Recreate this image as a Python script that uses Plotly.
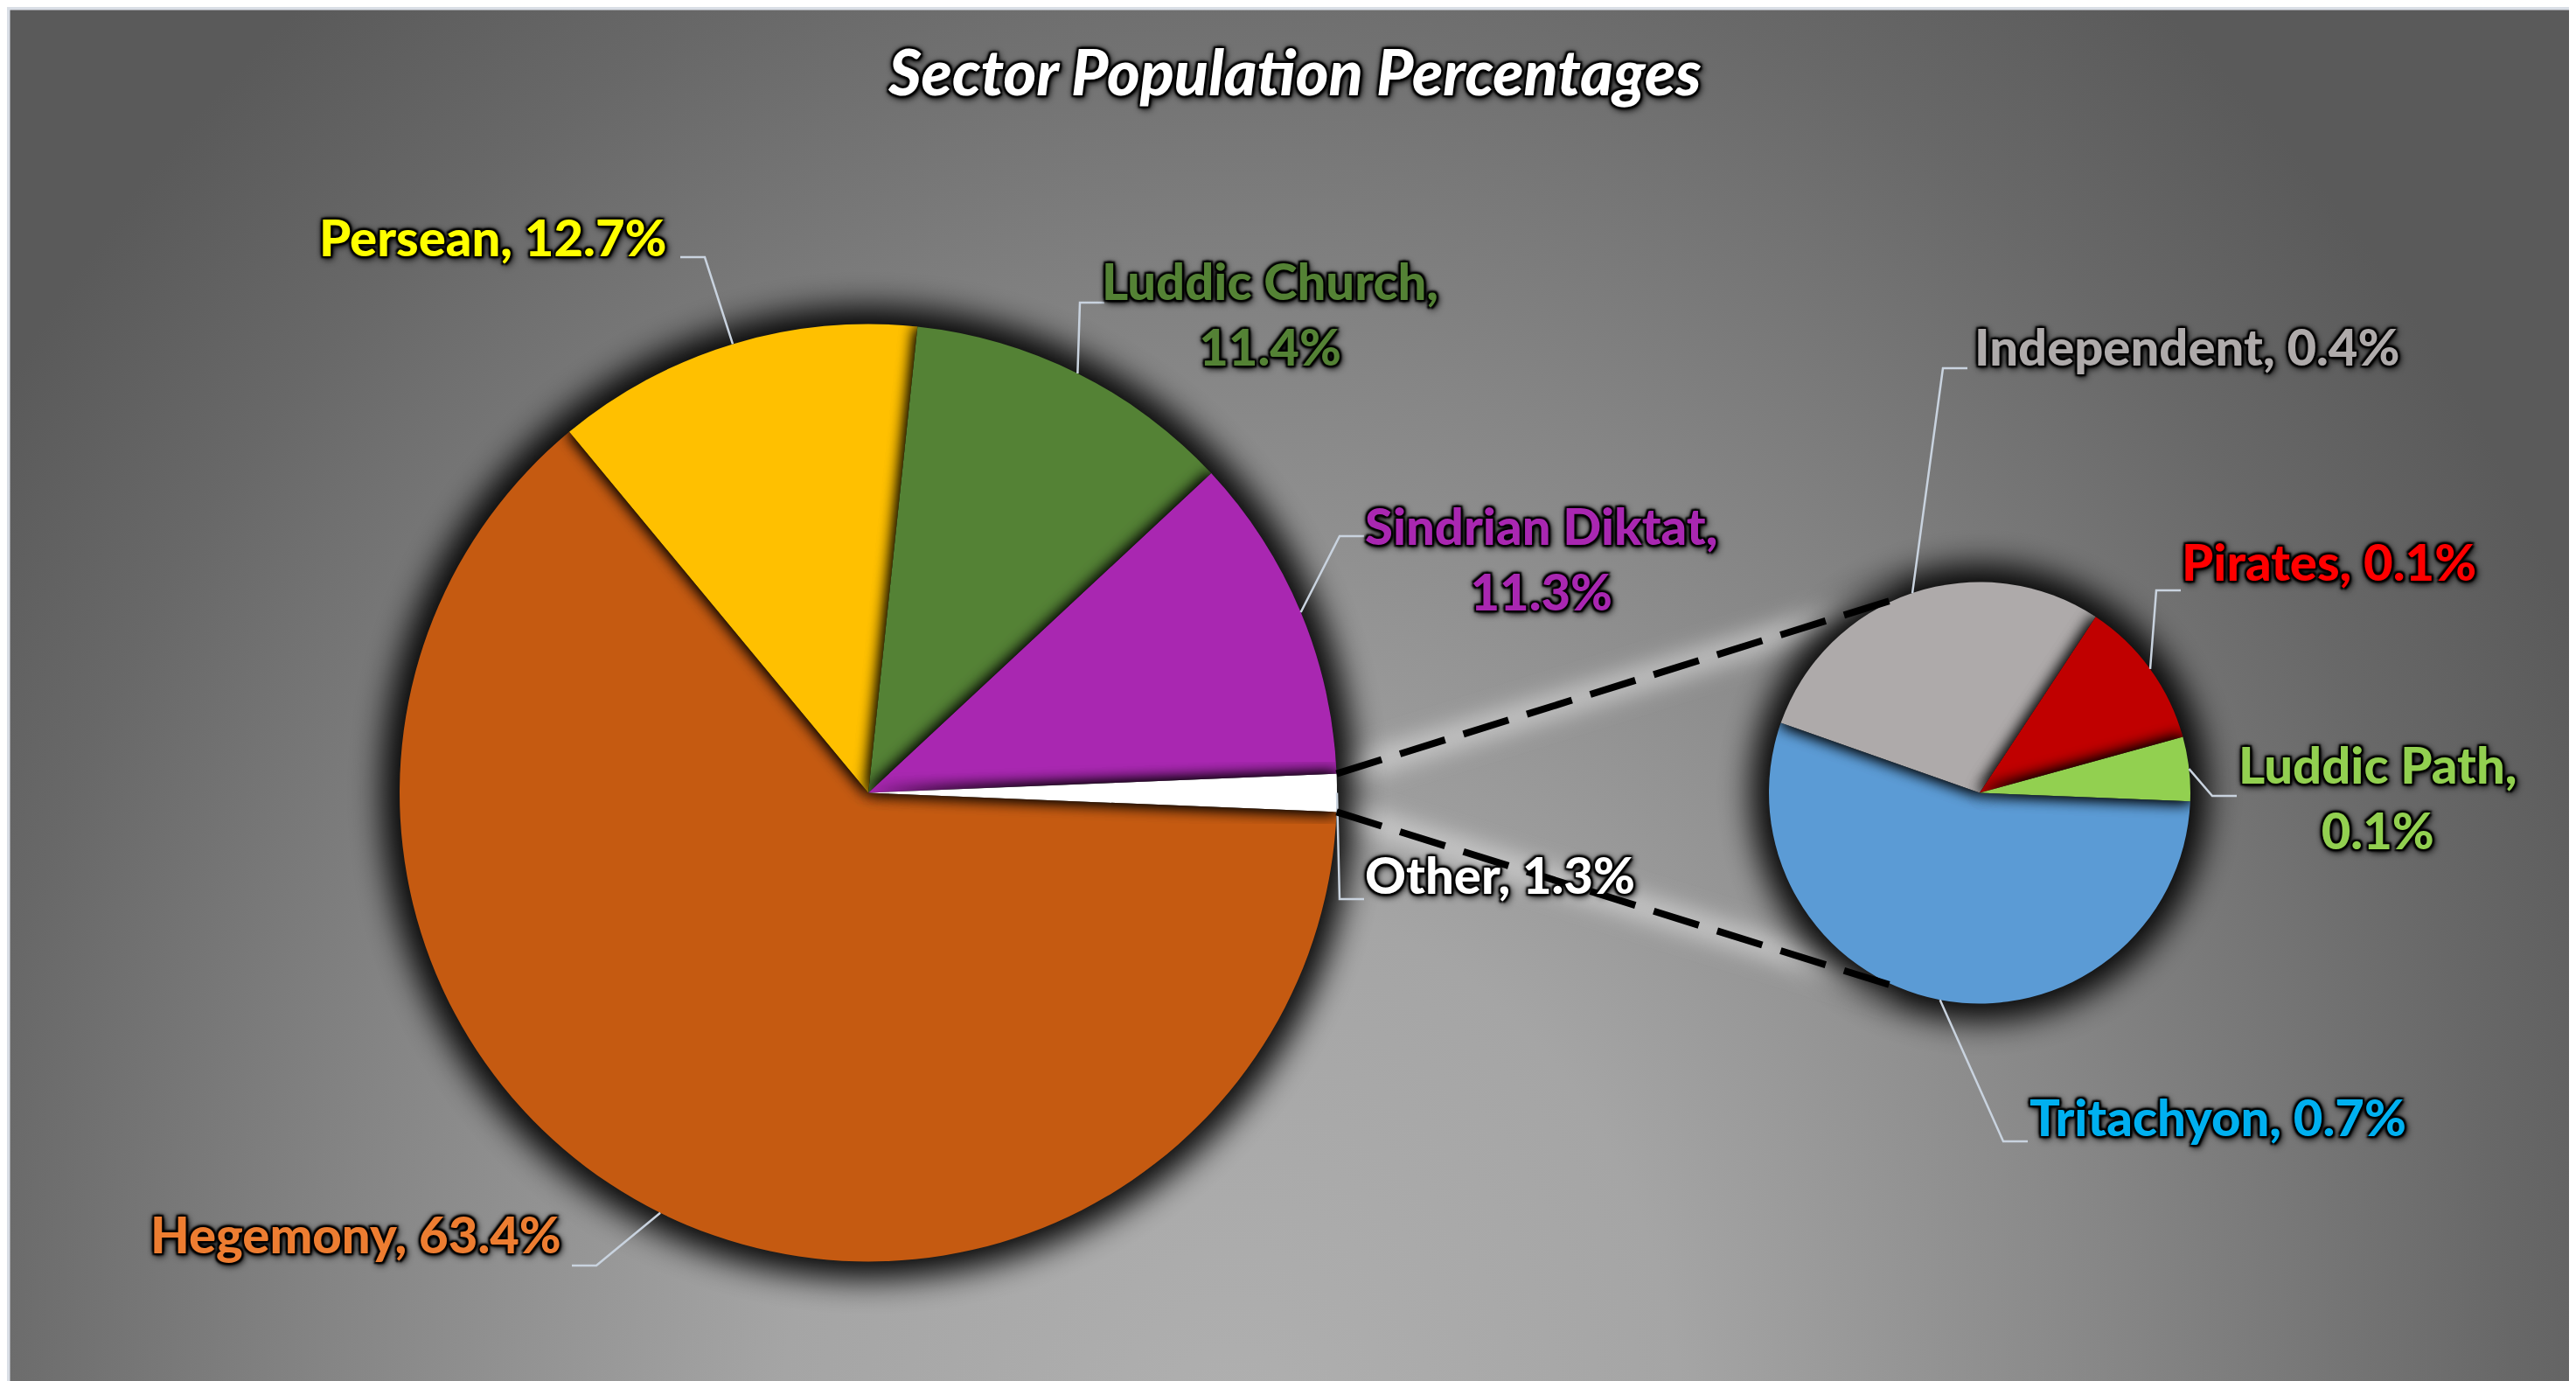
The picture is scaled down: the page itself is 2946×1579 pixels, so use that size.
import base64
import math
import plotly.graph_objects as go

W, H = 2946, 1579

# main pie
main_labels = ["Hegemony", "Persean", "Luddic Church", "Sindrian Diktat", "Other"]
main_values = [63.4, 12.7, 11.4, 11.3, 1.3]
main_colors = ["#C55A11", "#FFC000", "#548235", "#A927B1", "#FFFFFF"]
main_text_colors = ["#ED7D31", "#FFFF00", "#548235", "#A927B1", "#FFFFFF"]

# breakdown of "Other" (second pie), sizes
sub_labels = ["Tritachyon", "Independent", "Pirates", "Luddic Path"]
sub_values = [0.712, 0.376, 0.149, 0.064]
sub_colors = ["#5B9BD5", "#AEAAAA", "#C00000", "#92D050"]
sub_text_colors = ["#00B0F0", "#AEAAAA", "#FF0000", "#92D050"]

wrapped = {"Luddic Church", "Sindrian Diktat", "Luddic Path"}

# layout (pixels): pie centres / radii, label centres and where the leader meets the label
main_c, main_r = (985, 898.5), 536
sub_c, sub_r = (2256, 898.5), 241
start_deg = -2.34  # first slice starts just under 3 o'clock, clockwise

main_label_pos = [(399, 1402), (556, 262), (1444, 350), (1754, 630), (1707, 991)]
main_leader_pos = [(646, 1439), (770, 286), (1255, 338), (1552, 605), (1552, 1020)]
sub_label_pos = [(2528, 1268), (2493, 388), (2655, 633), (2711, 903)]
sub_leader_pos = [(2311, 1297), (2242, 413), (2486, 667), (2550, 902)]

FONT = "Lato"
SHADOW = ("-2px -2px 2px #000, 2px -2px 2px #000, -2px 2px 2px #000, 2px 2px 2px #000, "
          "0px 0px 4px #000, 0px 0px 7px #000, 2px 3px 9px #000")


def px(x, y):
    return x / W, 1 - y / H


def pt(c, r, ang):
    a = math.radians(ang)
    return c[0] + r * math.cos(a), c[1] - r * math.sin(a)


def slice_angles(values):
    total = sum(values)
    out = []
    a = start_deg
    for v in values:
        span = v / total * 360
        out.append((a, a - span))
        a -= span
    return out


def wedge(c, r, a0, a1):
    # clockwise wedge from a0 down to a1 (math degrees)
    x0, y0 = pt(c, r, a0)
    x1, y1 = pt(c, r, a1)
    large = 1 if (a0 - a1) > 180 else 0
    return (f"M{c[0]:.1f},{c[1]:.1f} L{x0:.1f},{y0:.1f} "
            f"A{r},{r} 0 {large} 1 {x1:.1f},{y1:.1f} Z")


def domain(c, r):
    return dict(x=[(c[0] - r) / W, (c[0] + r) / W],
                y=[1 - (c[1] + r) / H, 1 - (c[1] - r) / H])


main_ang = slice_angles(main_values)
sub_ang = slice_angles(sub_values)

# connector end points
other_a0, other_a1 = main_ang[-1]
con_top = (pt(main_c, main_r, other_a0), pt(sub_c, sub_r, 112))
con_bot = (pt(main_c, main_r, other_a1), pt(sub_c, sub_r, -112))

# background: gradient, glow round the connectors, shadow halo round the pies
gx, gy = 1400, 1650
bg_svg = f"""<svg xmlns='http://www.w3.org/2000/svg' width='{W}' height='{H}' viewBox='0 0 {W} {H}'>
<defs>
<radialGradient id='bg' gradientUnits='userSpaceOnUse' cx='{gx}' cy='{gy}' r='2100'
 gradientTransform='translate({gx},{gy}) scale(0.82,1) translate(-{gx},-{gy})'>
<stop offset='0' stop-color='#B0B0B0'/>
<stop offset='0.3' stop-color='#A5A5A5'/>
<stop offset='0.6' stop-color='#858585'/>
<stop offset='0.85' stop-color='#686868'/>
<stop offset='1' stop-color='#5A5A5A'/>
</radialGradient>
<filter id='halo' x='-30%' y='-30%' width='160%' height='160%'><feGaussianBlur stdDeviation='18'/></filter>
<filter id='glow' x='-30%' y='-30%' width='160%' height='160%'><feGaussianBlur stdDeviation='12'/></filter>
</defs>
<rect width='{W}' height='{H}' fill='url(#bg)'/>
"""
for (a, b) in (con_top, con_bot):
    bg_svg += (f"<line x1='{a[0]:.1f}' y1='{a[1]:.1f}' x2='{b[0]:.1f}' y2='{b[1]:.1f}' "
               f"stroke='#E6E6E6' stroke-width='30' opacity='0.55' filter='url(#glow)'/>\n")
for c, r in ((main_c, main_r), (sub_c, sub_r)):
    bg_svg += (f"<circle cx='{c[0]}' cy='{c[1]}' r='{r + 20}' fill='#000' opacity='0.95' "
               f"filter='url(#halo)'/>\n")
bg_svg += "</svg>"

# slice shadows: each slice throws a soft shadow onto the slices drawn before it
sh_svg = (f"<svg xmlns='http://www.w3.org/2000/svg' width='{W}' height='{H}' viewBox='0 0 {W} {H}'>"
          "<defs><filter id='sh' x='-30%' y='-30%' width='160%' height='160%'>"
          "<feGaussianBlur stdDeviation='9'/></filter>")
body = ""
for k, (c, r, angs) in enumerate(((main_c, main_r, main_ang), (sub_c, sub_r, sub_ang))):
    for i in range(1, len(angs)):
        cid = f"c{k}_{i}"
        sh_svg += f"<clipPath id='{cid}'><path d='{wedge(c, r, angs[0][0], angs[i][0])}'/></clipPath>"
        shade = (f"<path d='{wedge(c, r, angs[i][0], angs[i][1])}' "
                 f"fill='#000' filter='url(#sh)'/>")
        body += f"<g clip-path='url(#{cid})'>{shade}{shade}</g>"
sh_svg += "</defs>" + body + "</svg>"


def data_uri(svg):
    return "data:image/svg+xml;base64," + base64.b64encode(svg.encode()).decode()


fig = go.Figure()
fig.add_trace(go.Pie(
    labels=main_labels, values=main_values, sort=False, direction="clockwise",
    rotation=90 - start_deg, marker=dict(colors=main_colors, line=dict(width=0)),
    textinfo="none", showlegend=False, domain=domain(main_c, main_r),
))
fig.add_trace(go.Pie(
    labels=sub_labels, values=sub_values, sort=False, direction="clockwise",
    rotation=90 - start_deg, marker=dict(colors=sub_colors, line=dict(width=0)),
    textinfo="none", showlegend=False, domain=domain(sub_c, sub_r),
))

shapes = []
annotations = []


def add_labels(labels, values, angs, c, r, colors, label_pos, leader_pos):
    for name, v, (a0, a1), col, lp, ld in zip(labels, values, angs, colors, label_pos, leader_pos):
        sep = ",<br>" if name in wrapped else ", "
        x, y = px(*lp)
        annotations.append(dict(
            text=f"{name}{sep}{v:.1f}%", x=x, y=y, xref="paper", yref="paper",
            showarrow=False, xanchor="center", yanchor="middle", align="center",
            font=dict(family=FONT, size=58, color=col, weight=900, shadow=SHADOW),
        ))
        # leader: slice edge -> elbow -> label
        tip = pt(c, r, (a0 + a1) / 2)
        side = 1 if tip[0] > ld[0] else -1
        elbow = (ld[0] + side * 28, ld[1])
        p = [px(*tip), px(*elbow), px(*ld)]
        shapes.append(dict(
            type="path", xref="paper", yref="paper",
            path=f"M{p[0][0]},{p[0][1]} L{p[1][0]},{p[1][1]} L{p[2][0]},{p[2][1]}",
            line=dict(color="#C9D3DF", width=2.5),
        ))


add_labels(main_labels, main_values, main_ang, main_c, main_r, main_text_colors,
           main_label_pos, main_leader_pos)
add_labels(sub_labels, sub_values, sub_ang, sub_c, sub_r, sub_text_colors,
           sub_label_pos, sub_leader_pos)

for (a, b) in (con_top, con_bot):
    p0, p1 = px(*a), px(*b)
    shapes.append(dict(type="line", xref="paper", yref="paper",
                       x0=p0[0], y0=p0[1], x1=p1[0], y1=p1[1],
                       line=dict(color="black", width=8, dash="54px,22px")))

# chart border
shapes.append(dict(type="rect", xref="paper", yref="paper", x0=0, y0=0, x1=1, y1=1,
                   line=dict(color="#D9DEE6", width=7)))

fig.update_layout(
    width=W, height=H,
    margin=dict(l=0, r=0, t=0, b=0),
    paper_bgcolor="#7A7A7A",
    title=dict(
        text="Sector Population Percentages", x=0.5, xanchor="center",
        y=1 - 76 / H, yanchor="middle", yref="container",
        font=dict(family=FONT, size=72, color="white", weight=900, style="italic",
                  shadow=SHADOW),
    ),
    images=[
        dict(source=data_uri(bg_svg), xref="paper", yref="paper", x=0, y=1,
             sizex=1, sizey=1, xanchor="left", yanchor="top", sizing="stretch", layer="below"),
        dict(source=data_uri(sh_svg), xref="paper", yref="paper", x=0, y=1,
             sizex=1, sizey=1, xanchor="left", yanchor="top", sizing="stretch", layer="above"),
    ],
    shapes=shapes,
    annotations=annotations,
)

fig.write_html("out.html")
